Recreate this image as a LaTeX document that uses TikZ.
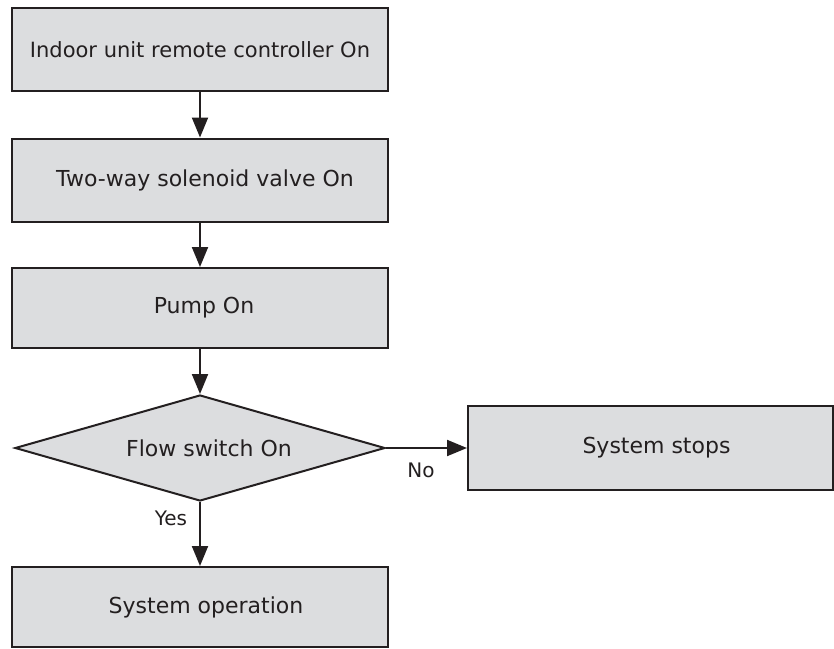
\documentclass[tikz,border=0pt]{standalone}
\usepackage{fontspec}
\setmainfont{DejaVu Sans}
\usetikzlibrary{shapes.geometric,arrows.meta}
\definecolor{boxfill}{HTML}{DCDDDF}
\definecolor{ink}{HTML}{231F20}
\begin{document}
\begin{tikzpicture}[x=1pt,y=-1pt,
  box/.style={draw=ink,fill=boxfill,line width=2pt,minimum width=376pt,inner sep=0pt,font=\fontsize{22}{26}\selectfont,text=ink},
  dec/.style={draw=ink,fill=boxfill,line width=2pt,shape=diamond,aspect=3.5,minimum width=370pt,minimum height=106pt,inner sep=0pt,font=\fontsize{22}{26}\selectfont,text=ink},
  conn/.style={draw=ink,line width=2pt,-{Triangle[length=20pt,width=16pt]}},
  lbl/.style={font=\fontsize{20}{24}\selectfont,text=ink,inner sep=0pt}]
\useasboundingbox (0,0) rectangle (834,648);
\node[box,minimum height=83pt,font=\fontsize{21}{24}\selectfont] (b1) at (200,49.5) {Indoor unit remote controller On};
\node[box,minimum height=83pt] (b2) at (200,180) {\hspace*{10pt}Two-way solenoid valve On};
\node[box,minimum height=80pt] (b3) at (200,308) {\hspace*{8pt}Pump On};
\node[dec] (d) at (200,448) {\hspace*{18pt}Flow switch On};
\node[box,minimum width=365pt,minimum height=84pt] (st) at (650.5,448) {\hspace*{12pt}System stops};
\node[box,minimum height=80pt] (op) at (200,607) {\hspace*{12pt}System operation};
\draw[conn] (b1.south) -- (b2.north);
\draw[conn] (b2.south) -- (b3.north);
\draw[conn] (b3.south) -- (d.north);
\draw[conn] (d.east) -- (st.west);
\draw[conn] (d.south) -- (op.north);
\node[lbl] (no) at (421,470) {No};
\node[lbl] (yes) at (171,518) {Yes};
\end{tikzpicture}
\end{document}
